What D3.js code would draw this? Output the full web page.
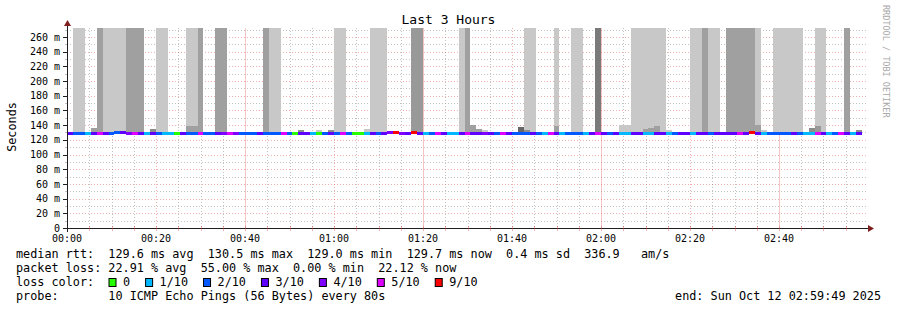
<!DOCTYPE html>
<html><head><meta charset="utf-8">
<script src="https://cdn.jsdelivr.net/npm/d3@7"></script>
<style>
body{margin:0;background:#fff}
svg{display:block}
text{font-family:"DejaVu Sans Mono",monospace;fill:#000}
</style>
</head><body>
<svg id="c" width="897" height="310"></svg>
<script>
// ---------------- data ----------------
const title = "Last 3 Hours";
const yAxisTitle = "Seconds";
const watermark = "RRDTOOL / TOBI OETIKER";
const stepSeconds = 80;
const spanMinutes = 180;
const yMax = 272.2;

const xTickMinutes = [0, 20, 40, 60, 80, 100, 120, 140, 160];
const xTickLabels = ["00:00","00:20","00:40","01:00","01:20","01:40","02:00","02:20","02:40"];
const yTickValues = [0,20,40,60,80,100,120,140,160,180,200,220,240,260];
const yTickLabels = ["0","20 m","40 m","60 m","80 m","100 m","120 m","140 m","160 m","180 m","200 m","220 m","240 m","260 m"];

// loss per 80 s sample, in tenths (null = no data)
const lossTenths = [
  3,2,2,1,3,5,3,2,2,3,
  4,5,3,1,3,2,1,1,0,3,
  2,2,5,2,2,3,4,5,4,2,
  2,2,3,2,2,2,5,2,0,3,
  3,1,0,2,3,2,5,2,0,0,
  1,3,2,3,4,9,4,3,9,3,
  1,2,5,3,1,1,3,5,3,3,
  4,3,2,5,3,2,2,2,3,2,
  1,5,3,1,2,2,2,1,3,5,
  3,2,3,1,1,3,3,1,1,3,
  3,1,2,3,3,1,3,3,2,3,
  3,3,3,5,3,9,3,1,2,2,
  2,2,3,2,1,1,5,3,1,2,
  5,3,1,3,null
];
// median rtt per sample, ms
const medianMs = [
  129.4,129.5,129.6,129.5,129.7,129.8,129.6,129.5,130.3,130.1,
  129.8,129.7,129.6,129.4,129.6,129.5,129.5,129.4,129.3,129.6,
  129.7,129.6,129.8,129.6,129.5,129.7,129.9,129.8,129.6,129.5,
  129.6,129.6,129.7,129.5,129.4,129.6,129.8,129.5,129.3,129.6,
  129.7,129.5,129.2,129.5,129.8,129.6,129.7,129.5,129.0,129.1,
  129.4,129.6,129.7,129.8,130.0,130.2,129.9,129.8,130.5,129.9,
  129.6,129.5,129.7,129.8,129.5,129.4,129.6,129.9,129.7,129.6,
  129.7,129.6,129.5,129.8,129.7,129.6,129.5,129.6,129.7,129.5,
  129.4,129.7,129.8,129.5,129.6,129.5,129.6,129.4,129.7,129.9,
  129.8,129.6,129.7,129.3,129.3,129.6,129.7,129.4,129.4,129.7,
  129.6,129.4,129.5,129.7,129.6,129.5,129.7,129.8,129.6,129.7,
  129.7,129.6,129.7,129.9,129.8,130.2,129.8,129.5,129.6,129.6,
  129.5,129.6,129.7,129.6,129.4,129.4,129.8,129.7,129.5,129.6,
  129.9,129.7,129.5,129.7,null
];
// tall smoke per sample: 0 none, 1 light, 2 dark, 3 darker, 4 darkest
const tallSmoke = [
  0,1,1,0,0,2,1,1,1,1,
  2,2,2,0,0,1,1,0,0,0,
  1,1,2,0,0,2,2,0,0,0,
  0,0,0,2,1,1,0,0,0,0,
  0,0,0,0,0,1,1,0,0,0,
  0,1,1,1,0,0,0,0,3,3,
  0,0,0,0,0,0,1,2,0,0,
  0,0,0,0,0,0,0,1,1,0,
  0,0,1,0,0,1,1,0,0,4,
  0,0,0,0,0,1,1,1,1,1,
  1,0,0,0,0,1,1,2,1,1,
  0,2,2,2,2,2,1,0,0,1,
  1,1,1,1,0,0,1,1,0,0,
  0,2,0,0,0
];
// low smoke near the median
const bumpSample = [4, 14, 20, 21, 39, 42, 44, 50, 68, 69, 70, 76, 77, 82, 93, 94, 97, 98, 99, 101, 116, 117, 125, 126, 133];
const bumpTopMs  = [136,135,139,139,133,133,133,135,140,135,133,137.5,133,139,140,140,135,136.5,139,133,140,133,136,139,133.5];
const bumpShade  = [2,5,2,2,5,1,5,1,2,2,1,6,5,2,1,1,2,2,2,1,2,1,5,3,5];

const lossLegendKeys = [0,1,2,3,4,5,9];
const lossLegendLabels = ["0","1/10","2/10","3/10","4/10","5/10","9/10"];

const statLine1 = "median rtt:  129.6 ms avg  130.5 ms max  129.0 ms min  129.7 ms now  0.4 ms sd  336.9   am/s";
const statLine2 = "packet loss: 22.91 % avg  55.00 % max  0.00 % min  22.12 % now";
const lossLabel = "loss color:";
const probeLine = "probe:       10 ICMP Echo Pings (56 Bytes) every 80s";
const endLine = "end: Sun Oct 12 02:59:49 2025";

// ---------------- styles ----------------
const lossColor = {0:"#26ff00",1:"#00b8ff",2:"#0059ff",3:"#5e00ff",4:"#7e00ff",5:"#dd00ff",9:"#ff0000"};
const shadeColor = {1:"#c8c8c8",2:"#a0a0a0",3:"#999999",4:"#7a7a7a",5:"#8c8c8c",6:"#666666"};
const gridColor = "rgba(143,143,143,0.55)";
const mgridColor = "rgba(222,79,79,0.45)";
const axisColor = "#1f1f1f";
const arrowColor = "#801f1f";
const keepSpaces = s => s.replace(/ /g, "\u00a0");

// ---------------- drawing ----------------
const svg = d3.select("#c");
svg.append("rect").attr("width",897).attr("height",310).attr("fill","#fff");

const x = d3.scaleLinear().domain([0, spanMinutes]).range([67, 868]);
const y = d3.scaleLinear().domain([0, yMax]).range([228, 28]);
const stepMin = stepSeconds / 60;

// grid
const g = svg.append("g");
const minorY = d3.range(10, yMax, 10).filter(v => v % 20 !== 0);
g.selectAll(".hmin").data(minorY).join("line")
  .attr("x1", x(0)).attr("x2", x(spanMinutes))
  .attr("y1", d => Math.round(y(d)) + 0.5).attr("y2", d => Math.round(y(d)) + 0.5)
  .attr("stroke", gridColor).attr("stroke-dasharray", "1,2");
const minorX = d3.range(5, spanMinutes, 5).filter(v => v % 20 !== 0);
g.selectAll(".vmin").data(minorX).join("line")
  .attr("x1", d => Math.round(x(d)) + 0.5).attr("x2", d => Math.round(x(d)) + 0.5)
  .attr("y1", y(yMax)).attr("y2", y(0))
  .attr("stroke", gridColor).attr("stroke-dasharray", "1,2");
g.selectAll(".hmaj").data(yTickValues.filter(v => v > 0)).join("line")
  .attr("x1", x(0)).attr("x2", x(spanMinutes))
  .attr("y1", d => Math.round(y(d)) + 0.5).attr("y2", d => Math.round(y(d)) + 0.5)
  .attr("stroke", mgridColor).attr("stroke-dasharray", "1,2");
g.selectAll(".vmaj").data(xTickMinutes.filter(v => v > 0)).join("line")
  .attr("x1", d => Math.round(x(d)) + 0.5).attr("x2", d => Math.round(x(d)) + 0.5)
  .attr("y1", y(yMax)).attr("y2", y(0))
  .attr("stroke", mgridColor)
  .attr("stroke-dasharray", d => d % 40 === 0 ? null : "1,2")
  .attr("stroke-opacity", d => d % 40 === 0 ? 0.75 : 1);

// smoke
const smokeBase = 129.0;
const samples = lossTenths.map((l, i) => ({i, loss: l, med: medianMs[i], tall: tallSmoke[i]}));
const sx0 = i => Math.round(x(i * stepMin));
const sx1 = i => Math.round(x((i + 1) * stepMin));
svg.append("g").selectAll("rect").data(samples.filter(d => d.tall > 0)).join("rect")
  .attr("x", d => sx0(d.i)).attr("width", d => sx1(d.i) - sx0(d.i))
  .attr("y", y(yMax)).attr("height", y(smokeBase) - y(yMax))
  .attr("fill", d => shadeColor[d.tall]).attr("shape-rendering","crispEdges");
const bumps = bumpSample.map((s, k) => ({i: s, top: bumpTopMs[k], shade: bumpShade[k]}));
svg.append("g").selectAll("rect").data(bumps).join("rect")
  .attr("x", d => sx0(d.i)).attr("width", d => sx1(d.i) - sx0(d.i))
  .attr("y", d => Math.round(y(d.top))).attr("height", d => Math.round(y(smokeBase)) - Math.round(y(d.top)))
  .attr("fill", d => shadeColor[d.shade]).attr("shape-rendering","crispEdges");

// median line coloured by loss
const valid = samples.filter(d => d.loss !== null && d.med !== null);
svg.append("g").selectAll("rect").data(valid).join("rect")
  .attr("x", d => sx0(d.i)).attr("width", d => sx1(d.i) - sx0(d.i))
  .attr("y", d => Math.round(y(d.med)) - 1).attr("height", 3)
  .attr("fill", d => lossColor[d.loss]).attr("shape-rendering","crispEdges");

// axes
const ax = svg.append("g");
ax.append("line").attr("x1", 63).attr("x2", 870).attr("y1", 228.5).attr("y2", 228.5).attr("stroke", axisColor);
ax.append("line").attr("x1", 67.5).attr("x2", 67.5).attr("y1", 232).attr("y2", 24).attr("stroke", axisColor);
ax.append("path").attr("d", "M868,225 L874,228.5 L868,232 Z").attr("fill", arrowColor);
ax.append("path").attr("d", "M64,26 L67.5,20 L71,26 Z").attr("fill", arrowColor);
// x ticks
ax.selectAll(".xt").data(d3.range(5, spanMinutes, 5)).join("line")
  .attr("x1", d => Math.round(x(d)) + 0.5).attr("x2", d => Math.round(x(d)) + 0.5)
  .attr("y1", 226).attr("y2", 231).attr("stroke", mgridColor);
ax.selectAll(".yt").data(yTickValues).join("line")
  .attr("x1", 63).attr("x2", 67)
  .attr("y1", d => Math.round(y(d)) + 0.5).attr("y2", d => Math.round(y(d)) + 0.5)
  .attr("stroke", axisColor);
ax.selectAll(".ytm").data(minorY).join("line")
  .attr("x1", 65).attr("x2", 67)
  .attr("y1", d => Math.round(y(d)) + 0.5).attr("y2", d => Math.round(y(d)) + 0.5)
  .attr("stroke", gridColor);

// tick labels
svg.append("g").selectAll("text").data(yTickValues).join("text")
  .attr("x", 60).attr("y", d => y(d) + 3.6).attr("text-anchor", "end")
  .attr("font-size", 10).text((d, i) => keepSpaces(yTickLabels[i]));
svg.append("g").selectAll("text").data(xTickMinutes).join("text")
  .attr("x", d => x(d)).attr("y", 241.5).attr("text-anchor", "middle")
  .attr("font-size", 10).text((d, i) => xTickLabels[i]);

// titles
svg.append("text").attr("x", 448.5).attr("y", 23.5).attr("text-anchor", "middle")
  .attr("font-size", 13).text(title);
svg.append("text").attr("transform", "translate(16,127) rotate(-90)").attr("text-anchor", "middle")
  .attr("font-size", 11.8).text(yAxisTitle);
svg.append("text").attr("transform", "translate(883,5) rotate(90)")
  .attr("font-size", 8.5).style("fill", "#a8a8a8").text(watermark);

// legend
const fs = 11.8;
const leg = svg.append("g").attr("font-size", fs);
leg.append("text").attr("x", 16).attr("y", 258).text(keepSpaces(statLine1));
leg.append("text").attr("x", 16).attr("y", 272).text(keepSpaces(statLine2));
leg.append("text").attr("x", 16).attr("y", 286).text(keepSpaces(lossLabel));
leg.append("text").attr("x", 16).attr("y", 300).text(keepSpaces(probeLine));
leg.append("text").attr("x", 881).attr("y", 300).attr("text-anchor", "end").text(keepSpaces(endLine));

let bx = 108.5;
lossLegendKeys.forEach((k, i) => {
  leg.append("rect").attr("x", bx + 0.5).attr("y", 278.5).attr("width", 7).attr("height", 8)
    .attr("fill", lossColor[k]).attr("stroke", "#000").attr("stroke-width", 1);
  const t = leg.append("text").attr("x", bx + 14.5).attr("y", 286).text(lossLegendLabels[i]);
  bx = bx + 14.5 + t.node().getComputedTextLength() + 15;
});
</script>
</body></html>
